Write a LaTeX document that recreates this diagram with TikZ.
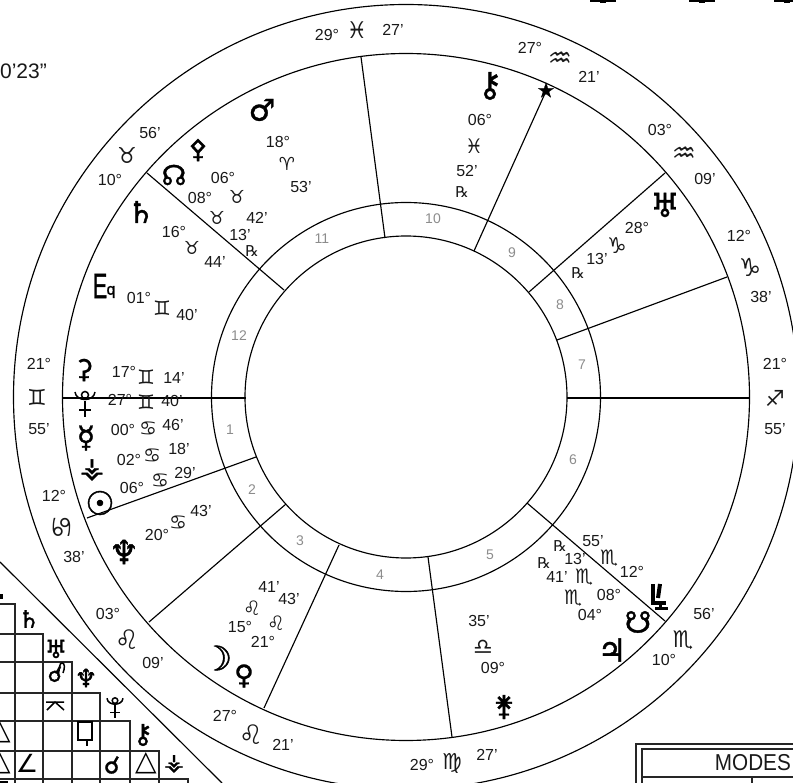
\documentclass[tikz,border=0pt]{standalone}
\usepackage{fontspec}
\setmainfont{Liberation Sans}
\newfontfamily\sym{DejaVu Sans}
\newfontfamily\symb[FakeBold=1.2]{DejaVu Sans}
\newfontfamily\boldish[FakeBold=1.5]{Liberation Sans}
\tikzset{
  ring/.style={draw=black,line width=1.15pt},
  cusp/.style={draw=black,line width=1.15pt},
  gridl/.style={draw=black!85,line width=1.3pt},
  glyphline/.style={draw=black,line width=1.5pt},
  lab/.style={inner sep=0pt,font=\fontsize{16}{16}\selectfont,text=black!90},
  hnum/.style={inner sep=0pt,font=\fontsize{14}{14}\selectfont,text=black!45},
  pluto/.pic={
    \draw[glyphline] (-10,-11) .. controls (-9,-1) and (9,-1) .. (10,-11);
    \draw[glyphline] (0,-8) circle[radius=3.5];
    \draw[glyphline] (0,-2) -- (0,14);
    \draw[glyphline] (-6,7) -- (6,7);
  },
}
\begin{document}
\begin{tikzpicture}[x=1pt,y=-1pt]
\useasboundingbox (0,0) rectangle (793,783);
\clip (0,0) rectangle (793,783);
\coordinate (C) at (406,397);
\draw[ring] (C) circle[radius=392.5];
\draw[ring] (C) circle[radius=343.5];
\draw[ring] (C) circle[radius=194.5];
\draw[ring] (C) circle[radius=161];
\foreach \a/\b/\c/\d [count=\i] in {63/398/246/398, 567/398/749/398, 147/173/284/290, 361/57/385/238, 474/251/547/89, 529/292/665/173, 557/340/727/277, 256/457/87/518, 286/504/149/622, 339/545/264/708, 428/557/452/737, 527/503/665/621}{
  \coordinate (p\i) at (\a,\b); \coordinate (q\i) at (\c,\d);
  \draw[cusp] (p\i) -- (q\i);
}
% minute / degree labels
\foreach \x/\y/\t [count=\i] in {327/35/29°,393/30/27',150/133/56',110/180/10°,278/142/18°,301/187/53',223/178/06°,200/198/08°,257/218/42',240/235/13',174/232/16°,215/262/44',139/298/01°,187/315/40',124/372/17°,174/378/14',39/364/21°,39/429/55',120/400/27°,172/401/40',123/430/00°,173/425/46',129/460/02°,179/449/18',132/488/06°,185/473/29',54/496/12°,74/557/38',157/535/20°,201/511/43',108/614/03°,153/663/09',269/587/41',289/599/43',240/627/15°,263/642/21°,225/716/27°,283/745/21',480/120/06°,467/171/52',530/48/27°,589/77/21',660/130/03°,705/179/09',637/228/28°,597/259/13',739/236/12°,761/297/38',775/364/21°,775/429/55',593/541/55',632/572/12°,575/559/13',557/577/41',609/595/08°,590/615/04°,704/614/56',664/660/10°,479/621/35',493/668/09°,422/765/29°,487/755/27'}{
  \node[lab] (l\i) at (\x,\y) {\t};
}
\node[lab,anchor=east,font=\fontsize{21}{21}\selectfont] (time) at (47,71) {0'23"};
% sign glyphs and retrograde marks
\foreach \x/\y/\s/\t [count=\i] in {287/164/18/♈,237/197/18/♉,217/218/18/♉,192/248/18/♉,162/308/20/♊,146/377/20/♊,146/402/20/♊,148/429/20/♋,152/456/20/♋,160/481/20/♋,178/523/20/♋,252/608/20/♌,276/623/20/♌,474/146/20/♓,617/245/22/♑,609/558/20/♏,584/577/20/♏,573/598/20/♏,483/647/22/♎,252/251/15/℞,462/192/15/℞,578/273/15/℞,560/546/15/℞,544/563/15/℞,357/30/23/♓,127/155/22/♉,37/397/22/♊,127/640/27/♌,251/735/27/♌,560/60/27/♒,684/155/27/♒,750/267/25/♑,775/398/22/♐,683/640/23/♏,452/763/22/♍}{
  \node[inner sep=0pt,font=\sym\fontsize{\s}{\s}\selectfont,text=black!90] (g\i) at (\x,\y) {\t};
}
\node[inner sep=0pt,rotate=90,font=\sym\fontsize{27}{27}\selectfont,text=black!90] (cancer) at (62,527) {♋};
% planets
\foreach \x/\y/\s/\t [count=\i] in {262/110/30/♂,198/150/26/⚴,174/175/28/☊,141/212/30/♄,84/370/26/⚳,86/438/30/☿,92/470/28/⚶,100/503/33/☉,124/552/33/♆,217/658/34/☽,244/676/27/♀,490/86/34/⚷,546/90/20/★,665/205/33/♅,638/622/30/☋,612/650/32/♃,504/707/28/⚵}{
  \node[inner sep=0pt,font=\symb\fontsize{\s}{\s}\selectfont] (b\i) at (\x,\y) {\t};
}
\pic (plutoA) at (85,403) {pluto};
% the K-like planet glyph, no font has it
\draw[line width=4pt] (652.5,584) -- (652.5,603) -- (666,603);
\draw[line width=4pt] (660,584) -- (658,598);
\draw[line width=3pt] (660,603) -- (660,609);
\draw[line width=2.5pt] (655,608.5) -- (668,608.5);
\node[inner sep=0pt,transform shape,xscale=.62,font=\boldish\fontsize{35}{35}\selectfont] (eqE) at (100,286) {E};
\node[inner sep=0pt,font=\boldish\fontsize{16}{16}\selectfont] (eqq) at (111,292) {q};
% house numbers
\foreach \x/\y/\t [count=\i] in {322/239/11,239/336/12,230/430/1,252/490/2,300/541/3,380/575/4,490/555/5,573/460/6,582/365/7,560/305/8,512/253/9,433/219/10}{
  \node[hnum] (h\i) at (\x,\y) {\t};
}
% aspect grid
\coordinate (d1) at (0,562); \coordinate (d2) at (222,783);
\draw[ring] (d1) -- (d2);
\foreach \x/\y [count=\i] in {15/604,43/634,72/662,100/693,130/721,159/751,188/779}{
  \coordinate (s\i) at (\x,\y); \coordinate (sl\i) at (0,\y); \coordinate (sb\i) at (\x,783);
  \draw[gridl] (sl\i) -- (s\i) -- (sb\i);
}
\foreach \x/\y/\s/\t [count=\i] in {29/619/24/♄,56/649/25/♅,55/674/22/☌,86/678/25/♆,143/735/27/⚷,112/765/24/☌,174/764/23/⚶}{
  \node[inner sep=0pt,font=\symb\fontsize{\s}{\s}\selectfont] (a\i) at (\x,\y) {\t};
}
\pic[scale=.8] (plutoB) at (115,707) {pluto};
\draw[glyphline] (58,676) .. controls (60,668) and (59,663) .. (62,663) .. controls (65,663) and (65,668) .. (63,673);
% quincunx, no font has it
\coordinate (qa) at (46,702); \coordinate (qb1) at (64,702); \coordinate (qc) at (47,710); \coordinate (qd) at (55,702); \coordinate (qe) at (64,710);
\draw[glyphline] (qa) -- (qb1) (qc) -- (qd) -- (qe);
\foreach \x/\y/\s/\t [count=\i] in {0/732/28/△,0/763/28/△,27/763/25/∠,146/763/28/△}{
  \node[inner sep=0pt,font=\sym\fontsize{\s}{\s}\selectfont] (t\i) at (\x,\y) {\t};
}
\node[draw,line width=2.2pt,minimum width=14pt,minimum height=18pt,inner sep=0pt] (qb) at (85,731) {};
\coordinate (qs) at (87,746);
\draw[line width=2.2pt] (qb.south) ++(2,0) -- (qs);
% cut-off glyph ends at the edges
\foreach \x in {603,702,787}{\draw[line width=1.5pt] (\x-13,1) -- (\x+13,1); \draw[line width=2pt] (\x-3,2.5) -- (\x+3,2.5);}
\fill (0,594) rectangle (3,599);
\fill (0,781) rectangle (8,783);
% modes table
\coordinate (m1) at (636,783); \coordinate (m2) at (636,744); \coordinate (m3) at (793,744);
\coordinate (n1) at (642,783); \coordinate (n2) at (642,749); \coordinate (n3) at (793,749);
\coordinate (r1) at (642,777); \coordinate (r2) at (793,777); \coordinate (v1) at (752,777); \coordinate (v2) at (752,783);
\draw[gridl] (m1) -- (m2) -- (m3);
\draw[gridl] (n1) -- (n2) -- (n3);
\draw[gridl] (r1) -- (r2);
\draw[gridl] (v1) -- (v2);
\node[lab,anchor=east,transform shape,xscale=.9,font=\fontsize{23}{23}\selectfont] (modes) at (791,763) {MODES};
\end{tikzpicture}
\end{document}
